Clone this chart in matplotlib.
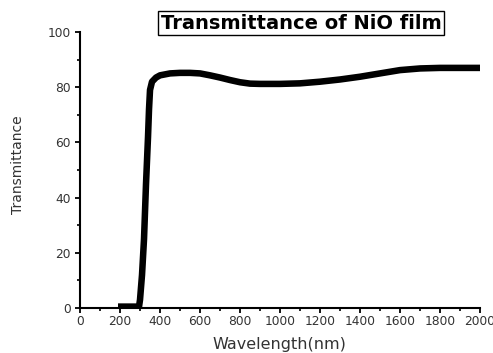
import numpy as np
import matplotlib.pyplot as plt
from matplotlib.ticker import MultipleLocator

# transmittance
wavelength = [190, 250, 295, 300, 310, 320, 330, 340, 345, 350, 360, 380, 400, 450,
              500, 550, 600, 650, 700, 750, 800, 850, 900, 1000, 1100, 1200, 1300,
              1400, 1500, 1600, 1700, 1800, 1900, 2000]
transmittance = [0.5, 0.5, 0.5, 3, 12, 25, 45, 62, 72, 79, 82, 83.5, 84.3, 85,
                 85.2, 85.2, 85, 84.3, 83.5, 82.6, 81.8, 81.3, 81.2, 81.2, 81.4, 82, 82.8,
                 83.8, 85, 86.2, 86.8, 87, 87, 87]

plt.rcParams['font.family'] = ['DejaVu Sans']

fig = plt.figure(figsize=(4.93, 3.53), dpi=100)
ax = fig.add_axes([0.1623, 0.1275, 0.8114, 0.7818])

ax.plot(wavelength, transmittance, color='black', lw=4.7, solid_capstyle='butt')

ax.set_xlim(0, 2000)
ax.set_ylim(0, 100)
ax.xaxis.set_major_locator(MultipleLocator(200))
ax.xaxis.set_minor_locator(MultipleLocator(100))
ax.yaxis.set_major_locator(MultipleLocator(20))
ax.yaxis.set_minor_locator(MultipleLocator(10))

for s in ['top', 'right']:
    ax.spines[s].set_visible(False)
for s in ['left', 'bottom']:
    ax.spines[s].set_linewidth(1.5)

ax.tick_params(which='major', length=3.8, width=1.3, labelsize=8.8, labelcolor='#333333')
ax.tick_params(which='minor', length=2.3, width=1.2)
ax.tick_params(axis='x', which='major', pad=1.5)
ax.tick_params(axis='y', which='major', pad=3)

ax.set_xlabel('Wavelength(nm)', fontsize=11.5, color='#333333')
ax.set_ylabel('Transmittance', fontsize=10, color='#333333')
ax.xaxis.set_label_coords(0.499, -0.105)
ax.yaxis.set_label_coords(-0.1375, 0.518)

fig.text(0.6105, 0.9348, 'Transmittance of NiO film', fontsize=14, fontweight='bold',
         ha='center', va='center',
         bbox=dict(boxstyle='square,pad=0.15', fc='white', ec='black', lw=1))

fig.savefig('out.png', dpi=100)
